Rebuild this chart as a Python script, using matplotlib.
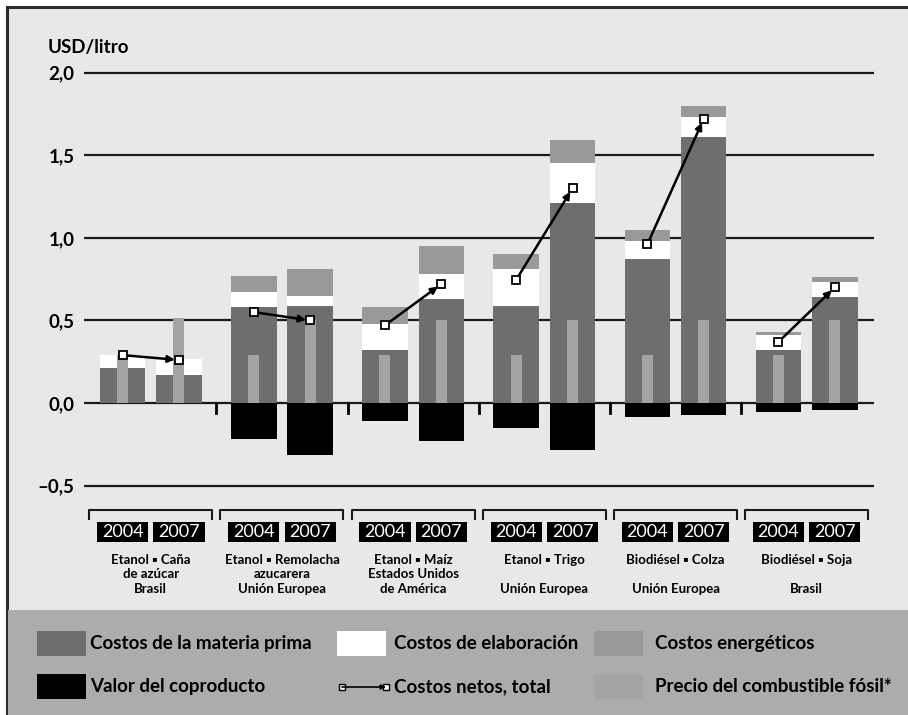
import matplotlib
matplotlib.use('Agg')
import matplotlib.pyplot as plt
from matplotlib.patches import Rectangle
import numpy as np

plt.rcParams['font.family'] = ['Lato', 'DejaVu Sans']

# data (USD per litre), order: Brasil cane, EU beet, USA maize, EU wheat, EU rapeseed, Brasil soy
years = ['2004', '2007']
categories = ['Etanol \u25aa Caña\nde azúcar\nBrasil',
              'Etanol \u25aa Remolacha\nazucarera\nUnión Europea',
              'Etanol \u25aa Maíz\nEstados Unidos\nde América',
              'Etanol \u25aa Trigo\n\nUnión Europea',
              'Biodiésel \u25aa Colza\n\nUnión Europea',
              'Biodiésel \u25aa Soja\n\nBrasil']
feedstock_2004 = [0.21, 0.58, 0.32, 0.59, 0.87, 0.32]
feedstock_2007 = [0.17, 0.59, 0.63, 1.21, 1.61, 0.64]
processing_2004 = [0.08, 0.09, 0.16, 0.22, 0.11, 0.09]
processing_2007 = [0.095, 0.06, 0.15, 0.24, 0.12, 0.09]
energy_2004 = [0.0, 0.10, 0.10, 0.09, 0.07, 0.02]
energy_2007 = [0.0, 0.16, 0.17, 0.14, 0.07, 0.03]
coproduct_2004 = [0.0, -0.22, -0.11, -0.15, -0.085, -0.055]
coproduct_2007 = [0.0, -0.315, -0.23, -0.285, -0.07, -0.045]
net_2004 = [0.29, 0.55, 0.47, 0.745, 0.96, 0.37]
net_2007 = [0.26, 0.50, 0.72, 1.30, 1.72, 0.70]
fossil_2004 = [0.29, 0.29, 0.29, 0.29, 0.29, 0.29]
fossil_2007 = [0.515, 0.50, 0.50, 0.50, 0.50, 0.50]

yticks = [-0.5, 0.0, 0.5, 1.0, 1.5, 2.0]
ytick_labels = ['\u20130,5', '0,0', '0,5', '1,0', '1,5', '2,0']

C_FEED = '#6e6e6e'
C_PROC = '#ffffff'
C_ENER = '#999999'
C_FOSS = '#a4a4a4'
C_COPR = '#000000'
C_BG = '#e8e8e8'
C_LEG = '#acacac'

fig = plt.figure(figsize=(9.08, 7.15), dpi=100)

# background / frame / legend panel in pixel coords
bg = fig.add_axes([0, 0, 1, 1], zorder=-1)
bg.set_xlim(0, 908)
bg.set_ylim(715, 0)
bg.axis('off')
bg.add_patch(Rectangle((7, 7), 920, 720, facecolor=C_BG, edgecolor='#2a2a2a', lw=2.2))
bg.add_patch(Rectangle((8, 610), 920, 110, facecolor=C_LEG, edgecolor='none'))

ax = fig.add_axes([84 / 908, 1 - 609.5 / 715, 790 / 908, 578.2 / 715])
ax.set_facecolor('none')
ax.set_xlim(-0.509, 5.513)
ax.set_ylim(-1.25, 2.25)
for s in ax.spines.values():
    s.set_visible(False)
ax.set_xticks([])
ax.set_yticks(yticks)
ax.set_yticklabels(ytick_labels, fontsize=13.5, fontweight='bold')
ax.tick_params(axis='y', length=0, pad=7)
for v in yticks:
    ax.axhline(v, color='#1a1a1a', lw=1.6, zorder=0)

x = np.arange(len(categories))
off = 0.215
w = 0.347
wf = 0.084
series = [(feedstock_2004, processing_2004, energy_2004, coproduct_2004, fossil_2004, -off),
          (feedstock_2007, processing_2007, energy_2007, coproduct_2007, fossil_2007, off)]
for feed, proc, ener, copr, foss, dx in series:
    xs = x + dx
    feed = np.array(feed)
    proc = np.array(proc)
    ax.bar(xs, feed, w, color=C_FEED, zorder=2)
    ax.bar(xs, proc, w, bottom=feed, color=C_PROC, zorder=2)
    ax.bar(xs, ener, w, bottom=feed + proc, color=C_ENER, zorder=2)
    ax.bar(xs, copr, w, color=C_COPR, zorder=2)
    ax.bar(xs, foss, wf, color=C_FOSS, zorder=3)

# net cost arrows
for i in range(len(categories)):
    x1, x2 = x[i] - off, x[i] + off
    ax.annotate('', xy=(x2, net_2007[i]), xytext=(x1, net_2004[i]),
                arrowprops=dict(arrowstyle='-|>', color='black', lw=1.8,
                                shrinkA=3, shrinkB=3, mutation_scale=10), zorder=4)
ax.plot(x - off, net_2004, 's', ms=5.5, mfc='white', mec='black', mew=1.3, zorder=5, ls='none')
ax.plot(x + off, net_2007, 's', ms=5.5, mfc='white', mec='black', mew=1.3, zorder=5, ls='none')

# separators at zero line
for i in range(len(categories) - 1):
    ax.plot([x[i] + 0.5, x[i] + 0.5], [0, -0.06], color='black', lw=2, zorder=1)

# brackets, year boxes and category labels
for i, cat in enumerate(categories):
    g = x[i]
    ax.plot([g - 0.469, g - 0.469, g + 0.469, g + 0.469], [-0.70, -0.648, -0.648, -0.70],
            color='#1a1a1a', lw=1.5, clip_on=False)
    for dx, yr in zip([-off, off], years):
        ax.add_patch(Rectangle((g + dx - 0.195, -0.842), 0.39, 0.121,
                               facecolor='black', edgecolor='none', clip_on=False))
        ax.text(g + dx, -0.782, yr, color='white', fontsize=13,
                ha='center', va='center')
    ax.text(g, -0.912, cat, ha='center', va='top', fontsize=9.5,
            fontweight='bold', linespacing=1.28)

# y-axis unit
fig.text(48 / 908, 1 - 48 / 715, 'USD/litro', fontsize=13.5, fontweight='bold',
         ha='left', va='center')

# legend
leg_fs = 13.5
patches = [(37, 631, C_FEED, 'Costos de la materia prima', 90),
           (337, 631, C_PROC, 'Costos de elaboración', 394),
           (594, 631, C_ENER, 'Costos energéticos', 655),
           (37, 674, C_COPR, 'Valor del coproducto', 90),
           (594, 674, C_FOSS, 'Precio del combustible fósil*', 655)]
for px, py, col, lab, tx in patches:
    bg.add_patch(Rectangle((px, py), 49, 25, facecolor=col, edgecolor='none'))
    bg.text(tx, py + 12.5, lab, fontsize=leg_fs, fontweight='bold', ha='left', va='center')
bg.annotate('', xy=(386, 687), xytext=(342, 687),
            arrowprops=dict(arrowstyle='-|>', color='black', lw=1.2,
                            shrinkA=0, shrinkB=0, mutation_scale=7))
bg.plot([342], [687], 's', ms=4, mfc='white', mec='black', mew=1)
bg.plot([386], [687], 's', ms=4, mfc='white', mec='black', mew=1)
bg.text(394, 687, 'Costos netos, total', fontsize=leg_fs, fontweight='bold',
        ha='left', va='center')

plt.savefig('out.png', dpi=100, facecolor='white')
plt.close(fig)
